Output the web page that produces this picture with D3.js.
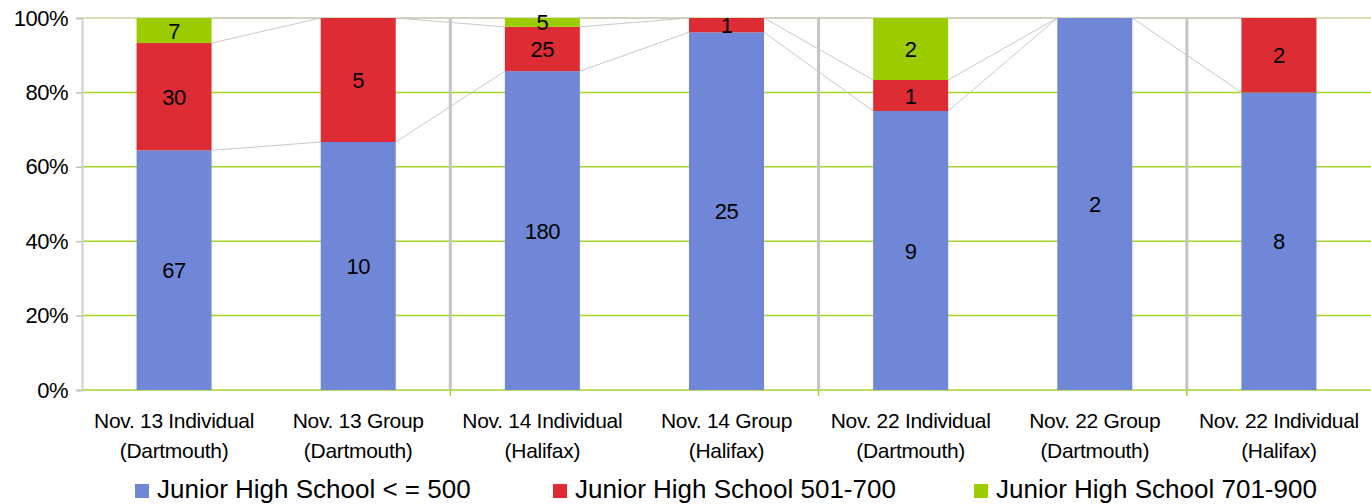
<!DOCTYPE html>
<html>
<head>
<meta charset="utf-8">
<script src="https://cdn.jsdelivr.net/npm/d3@7"></script>
<style>
  body { margin: 0; background: #fff; }
  text { font-family: "Liberation Sans", Arial, sans-serif; fill: #000; }
</style>
</head>
<body>
<div id="grafico"></div>
<script>
// datos
const categorias = [
  ["Nov. 13 Individual", "(Dartmouth)"],
  ["Nov. 13 Group", "(Dartmouth)"],
  ["Nov. 14 Individual", "(Halifax)"],
  ["Nov. 14 Group", "(Halifax)"],
  ["Nov. 22 Individual", "(Dartmouth)"],
  ["Nov. 22 Group", "(Dartmouth)"],
  ["Nov. 22 Individual", "(Halifax)"]
];
const series = ["Junior High School < = 500", "Junior High School 501-700", "Junior High School 701-900"];
const hasta500 = [67, 10, 180, 25, 9, 2, 8];
const de501a700 = [30, 5, 25, 1, 1, 0, 2];
const de701a900 = [7, 0, 5, 0, 2, 0, 0];
const yTicks = [0, 0.2, 0.4, 0.6, 0.8, 1];
const separadores = [2, 4, 6]; // límites de grupo (índice de categoría)

const colores = ["#6f87d6", "#dd2c33", "#9bcc00"];

const width = 1371, height = 504;
const margin = {top: 18, right: 0, bottom: 114, left: 82};

const svg = d3.select("#grafico").append("svg")
  .attr("width", width).attr("height", height);

const idx = categorias.map((d, i) => i);
const x = d3.scaleBand().domain(idx).range([margin.left, width - margin.right]).paddingInner(0).paddingOuter(0);
const y = d3.scaleLinear().domain([0, 1]).range([height - margin.bottom, margin.top]);
const barW = 75;

// tabla para el apilado (proporciones)
const tabla = idx.map(i => {
  const tot = hasta500[i] + de501a700[i] + de701a900[i];
  return {i, v: [hasta500[i], de501a700[i], de701a900[i]], s0: hasta500[i] / tot, s1: de501a700[i] / tot, s2: de701a900[i] / tot};
});
const pila = d3.stack().keys(["s0", "s1", "s2"])(tabla);

// cuadrícula
svg.append("g").selectAll("line").data(yTicks).join("line")
  .attr("x1", margin.left).attr("x2", width)
  .attr("y1", d => y(d)).attr("y2", d => y(d))
  .attr("stroke", d => d === 1 ? "#c8d4a0" : "#a6d22a").attr("stroke-width", 1.5);

// eje y
const ejeY = svg.append("g").attr("transform", `translate(${margin.left},0)`)
  .call(d3.axisLeft(y).tickValues(yTicks).tickFormat(d3.format(".0%")).tickSize(6).tickPadding(8));
ejeY.select(".domain").attr("stroke", "#d0d0d0").attr("stroke-width", 2);
ejeY.selectAll(".tick line").attr("stroke", "#c0c0c0").attr("stroke-width", 1.5);
ejeY.selectAll("text").style("font-size", "22px").style("letter-spacing", "-0.5px")
  .attr("font-family", null);

// separadores verticales
svg.append("g").selectAll("line").data(separadores).join("line")
  .attr("x1", d => x(d)).attr("x2", d => x(d))
  .attr("y1", y(1)).attr("y2", y(0))
  .attr("stroke", "#c4c4c4").attr("stroke-width", 3);
svg.append("g").selectAll("line").data(separadores).join("line")
  .attr("x1", d => x(d)).attr("x2", d => x(d))
  .attr("y1", y(0)).attr("y2", y(0) + 6)
  .attr("stroke", "#a6d22a").attr("stroke-width", 1.5);

// líneas de serie
const lineas = [];
pila.forEach(capa => {
  for (let i = 0; i < capa.length - 1; i++) {
    lineas.push({x1: x(i) + x.bandwidth() / 2 + barW / 2, y1: y(capa[i][1]),
                 x2: x(i + 1) + x.bandwidth() / 2 - barW / 2, y2: y(capa[i + 1][1])});
  }
});
svg.append("g").selectAll("line").data(lineas).join("line")
  .attr("x1", d => d.x1).attr("x2", d => d.x2).attr("y1", d => d.y1).attr("y2", d => d.y2)
  .attr("stroke", "#c8c8c8").attr("stroke-width", 1);

// barras
svg.append("g").selectAll("g").data(pila).join("g")
  .attr("fill", (d, k) => colores[k])
  .selectAll("rect").data(d => d).join("rect")
  .attr("x", d => x(d.data.i) + x.bandwidth() / 2 - barW / 2)
  .attr("width", barW)
  .attr("y", d => y(d[1]))
  .attr("height", d => y(d[0]) - y(d[1]));

// etiquetas de valor
pila.forEach((capa, k) => {
  svg.append("g").selectAll("text").data(capa.filter(d => d.data.v[k] > 0)).join("text")
    .attr("x", d => x(d.data.i) + x.bandwidth() / 2)
    .attr("y", d => y((d[0] + d[1]) / 2) + 8)
    .attr("text-anchor", "middle")
    .style("font-size", "22px").style("letter-spacing", "-0.5px")
    .text(d => d.data.v[k]);
});

// etiquetas del eje x
const ejeX = svg.append("g");
categorias.forEach((c, i) => {
  c.forEach((t, j) => {
    ejeX.append("text")
      .attr("x", x(i) + x.bandwidth() / 2)
      .attr("y", 428 + j * 30)
      .attr("text-anchor", "middle")
      .style("font-size", "21px").style("letter-spacing", "-0.3px")
      .text(t);
  });
});

// leyenda
const legX = [135, 553, 974];
const leyenda = svg.append("g").selectAll("g").data(series).join("g")
  .attr("transform", (d, k) => `translate(${legX[k]},484)`);
leyenda.append("rect").attr("width", 14).attr("height", 14).attr("fill", (d, k) => colores[k]);
leyenda.append("text").attr("x", 22).attr("y", 14)
  .style("font-size", "26px")
  .text(d => d);
</script>
</body>
</html>
